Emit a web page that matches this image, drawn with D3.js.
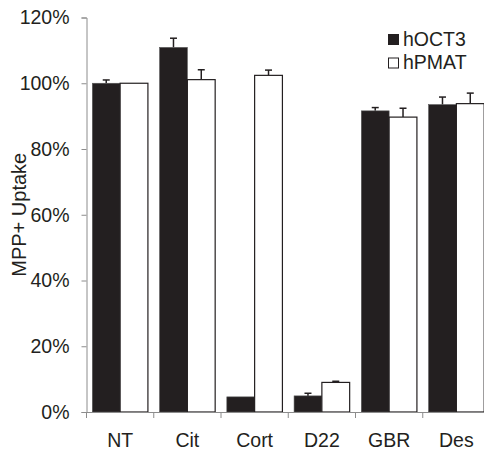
<!DOCTYPE html>
<html>
<head>
<meta charset="utf-8">
<script src="https://cdn.jsdelivr.net/npm/d3@7"></script>
<style>
  body { margin: 0; background: #fff; }
  svg { display: block; font-family: "Liberation Sans", Arial, sans-serif; }
</style>
</head>
<body>
<div id="chart"></div>
<script>
const categories = ['NT', 'Cit', 'Cort', 'D22', 'GBR', 'Des'];
const seriesNames = ['hOCT3', 'hPMAT'];
const hoct3 = [100, 110.9, 4.6, 4.9, 91.6, 93.5];
const hoct3Err = [1.0, 2.8, 0, 0.8, 1.0, 2.3];
const hpmat = [100, 101.1, 102.4, 9.0, 89.7, 93.8];
const hpmatErr = [0, 3.0, 1.6, 0.35, 2.7, 3.2];
const yTicks = [0, 20, 40, 60, 80, 100, 120];

const width = 484, height = 450;
const fs = 19.5;
const svg = d3.select('#chart').append('svg')
  .attr('width', width).attr('height', height);

const x = d3.scaleBand().domain(categories).range([86.5, 490]).paddingInner(0).paddingOuter(0);
const xs = d3.scaleBand().domain(seriesNames).range([0, x.bandwidth()]).paddingInner(0).paddingOuter(0.21);
const y = d3.scaleLinear().domain([0, 120]).range([412, 17.5]);

const axisColor = '#8c8c8c';
const rows = categories.map((c, i) => ({
  cat: c,
  vals: [
    { s: 'hOCT3', v: hoct3[i], e: hoct3Err[i], fill: '#231f20' },
    { s: 'hPMAT', v: hpmat[i], e: hpmatErr[i], fill: '#ffffff' }
  ]
}));

// y axis
const yAxis = svg.append('g').attr('transform', 'translate(86.5,0)')
  .call(d3.axisLeft(y).tickValues(yTicks).tickFormat(d => d + '%').tickSize(5).tickPadding(12));
yAxis.select('.domain').attr('stroke', axisColor);
yAxis.selectAll('.tick line').attr('stroke', axisColor);
yAxis.selectAll('.tick text').attr('font-size', fs).attr('fill', '#231f20')
  .attr('font-family', '"Liberation Sans", Arial, sans-serif');

// bars
const groups = svg.append('g').selectAll('g').data(rows).join('g')
  .attr('transform', d => `translate(${x(d.cat)},0)`);

groups.selectAll('g.err').data(d => d.vals.filter(v => v.e > 0)).join('g')
  .attr('class', 'err')
  .each(function(d) {
    const g = d3.select(this);
    const cx = xs(d.s) + xs.bandwidth() / 2;
    g.append('line').attr('x1', cx).attr('x2', cx)
      .attr('y1', y(d.v)).attr('y2', y(d.v + d.e))
      .attr('stroke', '#231f20').attr('stroke-width', 1.5);
    g.append('line').attr('x1', cx - 3.5).attr('x2', cx + 3.5)
      .attr('y1', y(d.v + d.e)).attr('y2', y(d.v + d.e))
      .attr('stroke', '#231f20').attr('stroke-width', 1.5);
  });

groups.selectAll('rect').data(d => d.vals).join('rect')
  .attr('x', d => xs(d.s))
  .attr('width', xs.bandwidth())
  .attr('y', d => y(d.v))
  .attr('height', d => y(0) - y(d.v))
  .attr('fill', d => d.fill)
  .attr('stroke', d => d.s === 'hOCT3' ? '#555' : '#231f20')
  .attr('stroke-width', d => d.s === 'hOCT3' ? 0.6 : 1.2);

// x axis
const xAxis = svg.append('g').attr('transform', `translate(0,${y(0)})`)
  .call(d3.axisBottom(x).tickSize(0).tickPadding(0));
xAxis.select('.domain').attr('stroke', axisColor);
xAxis.selectAll('.tick text').attr('font-size', fs).attr('fill', '#231f20')
  .attr('y', 35).attr('dy', 0)
  .attr('font-family', '"Liberation Sans", Arial, sans-serif');
svg.append('g').selectAll('line').data(categories).join('line')
  .attr('x1', d => x(d)).attr('x2', d => x(d))
  .attr('y1', y(0)).attr('y2', y(0) + 6)
  .attr('stroke', axisColor);

// y label
svg.append('text')
  .attr('transform', `translate(26,${(y(0) + y(120)) / 2}) rotate(-90)`)
  .attr('text-anchor', 'middle')
  .attr('font-size', 20).attr('fill', '#231f20')
  .text('MPP+ Uptake');

// legend
const legend = svg.append('g').attr('transform', 'translate(388,34)');
seriesNames.forEach((s, i) => {
  const g = legend.append('g').attr('transform', `translate(0,${i * 23.5})`);
  g.append('rect').attr('x', 0.5).attr('y', 0.5).attr('width', 10).attr('height', 10)
    .attr('fill', i === 0 ? '#231f20' : '#fff').attr('stroke', '#231f20').attr('stroke-width', 1);
  g.append('text').attr('x', 15).attr('y', 11.5).attr('font-size', fs).attr('fill', '#231f20').text(s);
});
</script>
</body>
</html>
